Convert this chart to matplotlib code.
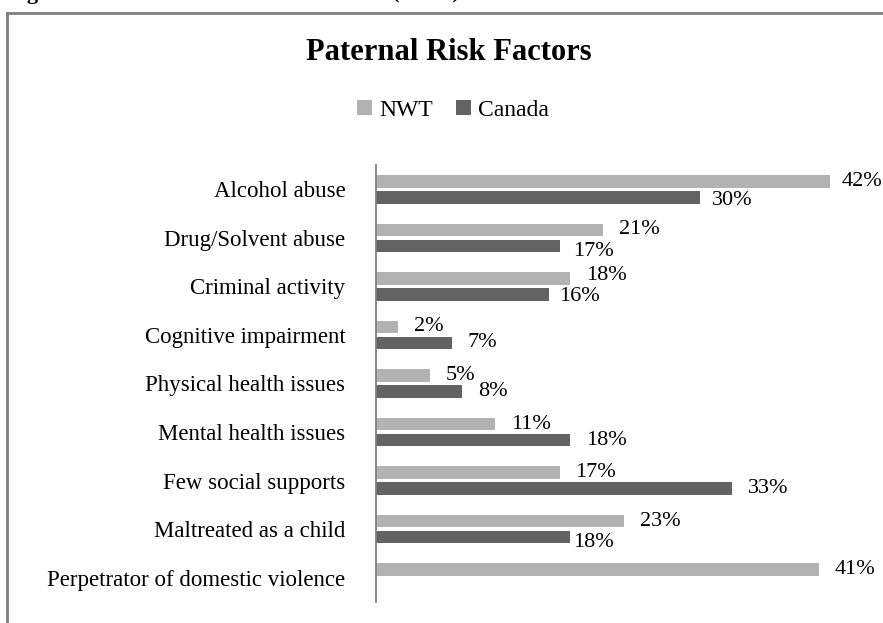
"""
Paternal risk factors, NWT vs Canada - horizontal grouped bar chart.
Writes out.png (883x623).
"""

import matplotlib.pyplot as plt
import numpy as np
from matplotlib.lines import Line2D
from matplotlib.patches import Patch

categories = [
    "Alcohol abuse",
    "Drug/Solvent abuse",
    "Criminal activity",
    "Cognitive impairment",
    "Physical health issues",
    "Mental health issues",
    "Few social supports",
    "Maltreated as a child",
    "Perpetrator of domestic violence",
]
nwt = [42, 21, 18, 2, 5, 11, 17, 23, 41]
canada = [30, 17, 16, 7, 8, 18, 33, 18, np.nan]

series_names = ["NWT", "Canada"]
series_colors = ["#b2b2b2", "#636363"]

# small hand nudges (dx, dy in pixels) for data labels that Excel moved
LABEL_NUDGE = {
    (0, 0): (-4, 0),
    (0, 2): (0, -3),
    (1, 0): (-4, 3),
    (1, 1): (-2, 6),
    (1, 2): (-6, 2),
    (1, 7): (-13, 5),
}

W, H = 883, 623
SERIF = ["Liberation Serif", "DejaVu Serif"]
plt.rcParams["font.family"] = SERIF


def fx(px):
    return px / W


def fy(py):
    return 1 - py / H


fig = plt.figure(figsize=(W / 100, H / 100), dpi=100)

ax_left, ax_right, ax_top, ax_bottom = 376, 862, 165, 602
ax = fig.add_axes([fx(ax_left), fy(ax_bottom), fx(ax_right - ax_left),
                   (ax_bottom - ax_top) / H])

y = np.arange(len(categories))
bar_h = 0.26
offset = 0.165
for s, (vals, col) in enumerate(zip([nwt, canada], series_colors)):
    ypos = y - offset if s == 0 else y + offset
    ax.barh(ypos, vals, height=bar_h, color=col, edgecolor="none")
    for i, v in enumerate(vals):
        if np.isnan(v):
            continue
        dx, dy = LABEL_NUDGE.get((s, i), (0, 0))
        ax.annotate(f"{v:.0f}%", xy=(v, ypos[i]), xytext=(16 + dx, -dy),
                    textcoords="offset pixels", ha="left", va="center",
                    fontsize=16, color="#000000", annotation_clip=False)

ax.set_xlim(0, 45)
ax.set_ylim(len(categories) - 0.5, -0.5)
ax.set_yticks(y)
ax.set_yticklabels(categories, fontsize=16.5)
ax.tick_params(axis="y", length=0, pad=22)
ax.set_xticks([])
for side in ["top", "right", "bottom"]:
    ax.spines[side].set_visible(False)
ax.spines["left"].set_color("#7f7f7f")
ax.spines["left"].set_linewidth(1.3)

fig.text(fx(449), fy(60), "Paternal Risk Factors", ha="center",
         va="baseline", fontsize=22, fontweight="bold")

handles = [Patch(facecolor=c, edgecolor="none", label=n)
           for n, c in zip(series_names, series_colors)]
fig.legend(handles=handles, loc="center", bbox_to_anchor=(fx(453), fy(110)),
           ncol=2, frameon=False, fontsize=17, handlelength=0.62,
           handleheight=0.62, handletextpad=0.3, columnspacing=1.0)

# frame of the source document and the clipped caption above it
fig.add_artist(Line2D([fx(7), 1], [fy(13), fy(13)], color="#7f7f7f",
                      lw=2, transform=fig.transFigure))
fig.add_artist(Line2D([fx(7), fx(7)], [fy(13), 0], color="#7f7f7f",
                      lw=2, transform=fig.transFigure))
fig.text(fx(8), fy(-1.5), "Figure", va="baseline", fontsize=16,
         fontweight="bold")
fig.text(fx(392), fy(-1.5), "(NWT)", va="baseline", fontsize=16,
         fontweight="bold")

fig.savefig("out.png", dpi=100, facecolor="white")
